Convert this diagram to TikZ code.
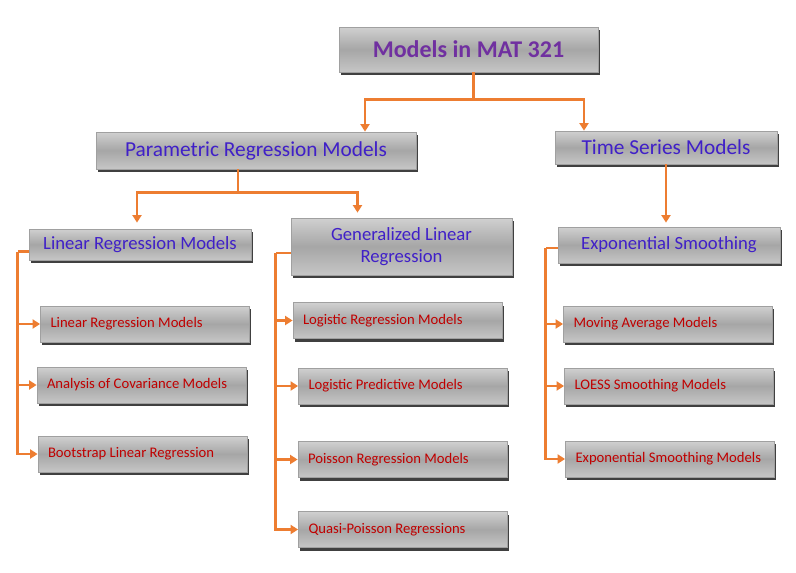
\documentclass[tikz,border=0pt]{standalone}
\usepackage{fontspec}
\setmainfont{Carlito}
\usetikzlibrary{arrows.meta,shadows}
\definecolor{linkorange}{HTML}{ED7D31}
\definecolor{titlepurple}{HTML}{7030A0}
\definecolor{headblue}{HTML}{4020C8}
\definecolor{leafred}{HTML}{C00000}
\definecolor{boxtop}{HTML}{D0D0D0}
\definecolor{boxmid}{HTML}{A6A6A6}
\definecolor{boxbottom}{HTML}{C6C6C6}
\definecolor{boxline}{HTML}{A0A0A0}
\definecolor{boxshadow}{HTML}{404040}
\begin{document}
\begin{tikzpicture}[x=1pt,y=-1pt,
        box/.style={draw=boxline,line width=0.8pt,top color=boxtop,bottom color=boxbottom,middle color=boxmid,
            drop shadow={shadow xshift=1.5pt,shadow yshift=-3pt,fill=boxshadow,opacity=1},
            inner sep=0pt},
        headbox/.style={box,text=headblue,font=\fontsize{21.33}{25}\selectfont},
        subbox/.style={box,text=headblue,font=\fontsize{18.67}{22.5}\selectfont},
        leafbox/.style={box,text=leafred,font=\fontsize{14.67}{17.6}\selectfont,
            minimum width=208pt,minimum height=36pt,text width=189pt,inner xsep=10pt,align=flush left},
        link/.style={draw=linkorange,line width=2.5pt},
        tip/.style={-{Triangle[length=7.5pt,width=9pt]}}]
        \fill[white] (0,0) rectangle (796,573);
        \useasboundingbox (0,0) rectangle (796,573);

        % Top levels
        \node[box,minimum width=259pt,minimum height=45pt,text=titlepurple,
            font=\fontsize{24}{28}\selectfont\bfseries] (root) at (468.5,49.5) {Models in MAT 321};
        \node[headbox,minimum width=320pt,minimum height=37pt] (param) at (256,150.5) {Parametric Regression Models};
        \node[headbox,minimum width=222pt,minimum height=33pt] (tsm) at (666,147.5) {Time Series Models};

        \node[subbox,minimum width=222pt,minimum height=31pt] (lrm) at (140,244.5) {Linear Regression Models};
        \node[subbox,minimum width=221pt,minimum height=57pt,align=center] (glr) at (401.5,246.5) {Generalized Linear\\Regression};
        \node[subbox,minimum width=222pt,minimum height=36pt] (es) at (669,245) {Exponential Smoothing};

        % Leaves
        \node[leafbox] (lrmodels) at (145,324) {Linear Regression Models};
        \node[leafbox] (ancova) at (141.5,385) {Analysis of Covariance Models};
        \node[leafbox] (bootlr) at (142.5,454) {Bootstrap Linear Regression};

        \node[leafbox] (logreg) at (397.5,320.5) {Logistic Regression Models};
        \node[leafbox] (logpred) at (403,386) {Logistic Predictive Models};
        \node[leafbox] (poisson) at (402.5,459.5) {Poisson Regression Models};
        \node[leafbox] (quasi) at (403,529.5) {Quasi-Poisson Regressions};

        \node[leafbox] (movavg) at (668,324) {Moving Average Models};
        \node[leafbox] (loess) at (669,386) {LOESS Smoothing Models};
        \node[leafbox] (expsm) at (670,459) {Exponential Smoothing Models};

        % Draw links
        \draw[link] ([xshift=5pt]root.south) -- ++(0,27) coordinate (rootfork);
        \draw[link,tip] (rootfork) -| ([xshift=109pt]param.north);
        \draw[link,tip] (rootfork) -| ([xshift=-82pt]tsm.north);

        \draw[link] ([xshift=-18pt]param.south) -- ++(0,23) coordinate (paramfork);
        \draw[link,tip,shorten >=6pt] (paramfork) -| ([xshift=-3pt]lrm.north);
        \draw[link,tip,shorten >=5pt] (paramfork) -| ([xshift=-44pt]glr.north);

        \draw[link,tip,shorten >=4pt] (tsm.south) -- (tsm.south |- es.north);

        \draw[link] ([yshift=-7pt]lrm.west) -- ++(-11,0) coordinate (lrmfork);
        \draw[link] ([yshift=-6.5pt]glr.west) -- ++(-15,0) coordinate (glrfork);
        \draw[link] ([yshift=-3pt]es.west) -- ++(-12,0) coordinate (esfork);

        \foreach \leaf in {lrmodels,ancova,bootlr}
           {
                \draw[link,tip] (lrmfork) |- (\leaf.west);
           }
        \foreach \leaf in {logreg,logpred,poisson,quasi}
           {
                \draw[link,tip] (glrfork) |- (\leaf.west);
           }
        \foreach \leaf in {movavg,loess,expsm}
           {
                \draw[link,tip] (esfork) |- (\leaf.west);
           }
    \end{tikzpicture}
\end{document}
